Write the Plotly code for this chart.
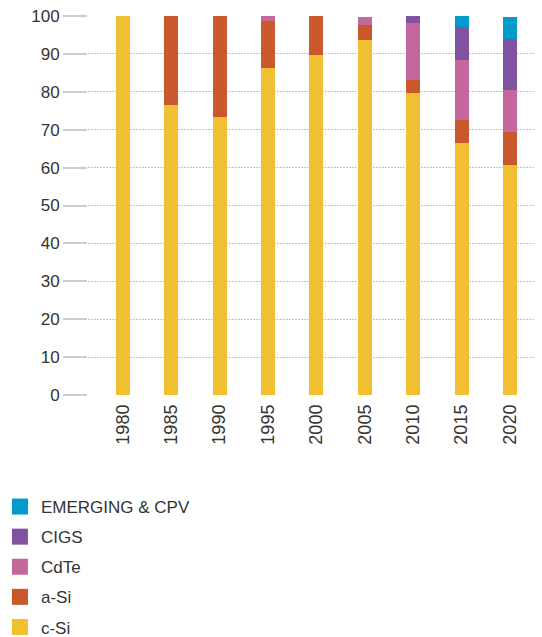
import plotly.graph_objects as go

years = ["1980", "1985", "1990", "1995", "2000", "2005", "2010", "2015", "2020"]
c_si = [100, 76.5, 73.4, 86.3, 89.7, 93.7, 79.7, 66.5, 60.7]
a_si = [0, 23.5, 26.6, 12.4, 10.3, 3.9, 3.4, 6.1, 8.7]
cdte = [0, 0, 0, 1.3, 0, 2.1, 15.1, 15.8, 11.1]
cigs = [0, 0, 0, 0, 0, 0, 1.8, 8.7, 13.4]
emerging = [0, 0, 0, 0, 0, 0, 0, 2.9, 5.8]

series = [
    ("c-Si", c_si, "#F0C032"),
    ("a-Si", a_si, "#C9582C"),
    ("CdTe", cdte, "#C4679C"),
    ("CIGS", cigs, "#7F539F"),
    ("EMERGING & CPV", emerging, "#009ACD"),
]

fig = go.Figure()
for name, vals, col in series:
    fig.add_trace(go.Bar(x=years, y=vals, name=name, marker_color=col,
                         marker_line_width=0, width=0.29, showlegend=False))
for name, vals, col in reversed(series):
    fig.add_trace(go.Scatter(x=[None], y=[None], mode="markers", name=name,
                             legendgroup=name,
                             marker=dict(symbol="square", size=16, color=col)))

# page body has an 8px margin, so the figure is sized to fit the window
fig.update_layout(
    barmode="stack",
    width=534, height=629,
    margin=dict(l=80, r=2, t=8, b=242, autoexpand=False),
    plot_bgcolor="white", paper_bgcolor="white",
    font=dict(family="Liberation Sans, Arial, sans-serif", color="#333333"),
    legend=dict(x=-0.197, y=-0.248, xanchor="left", yanchor="top",
                traceorder="grouped", tracegroupgap=5,
                font=dict(size=17, color="#333333"), itemwidth=32),
    xaxis=dict(type="category", range=[-0.72, 8.62], showgrid=False,
               showline=False, ticks="", tickangle=-90, automargin=False,
               ticklabelstandoff=5,
               tickfont=dict(size=18, color="#333333")),
    yaxis=dict(range=[0, 100], dtick=10, showgrid=True, gridcolor="#c4c4c4",
               griddash="2px,1px", gridwidth=1, zeroline=False, showline=False,
               ticks="outside", ticklen=24, tickcolor="#cccccc", tickwidth=2,
               automargin=False, ticklabeloverflow="allow",
               tickfont=dict(size=17, color="#333333")),
)
fig.write_html("out.html")
